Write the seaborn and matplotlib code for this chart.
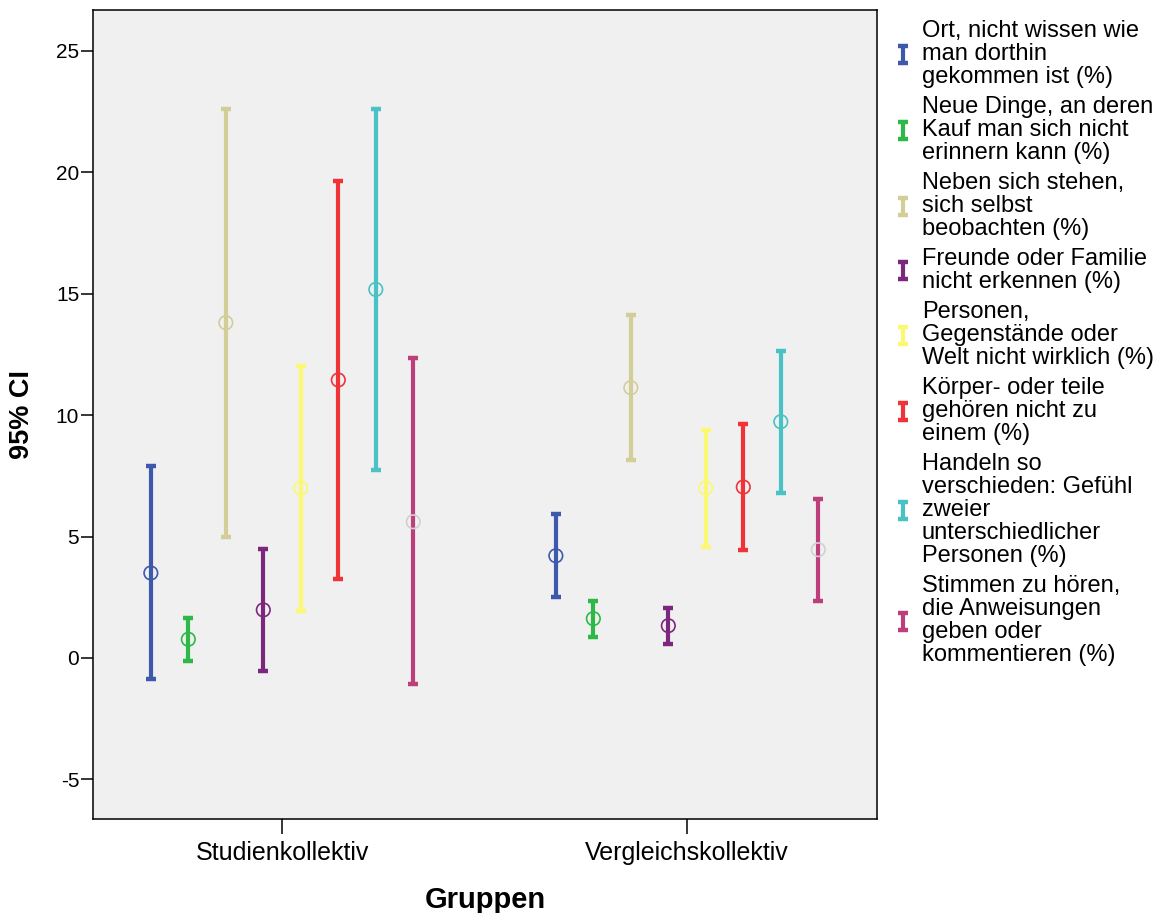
import numpy as np
import pandas as pd
import matplotlib
matplotlib.use("Agg")
import matplotlib.pyplot as plt
import seaborn as sns
from matplotlib.container import ErrorbarContainer
from matplotlib.legend_handler import HandlerErrorbar

# --- data (95% CI per item and group) ---
groups = ["Studienkollektiv", "Vergleichskollektiv"]
items = [
    "Ort, nicht wissen wie\nman dorthin\ngekommen ist (%)",
    "Neue Dinge, an deren\nKauf man sich nicht\nerinnern kann (%)",
    "Neben sich stehen,\nsich selbst\nbeobachten (%)",
    "Freunde oder Familie\nnicht erkennen (%)",
    "Personen,\nGegenstände oder\nWelt nicht wirklich (%)",
    "Körper- oder teile\ngehören nicht zu\neinem (%)",
    "Handeln so\nverschieden: Gefühl\nzweier\nunterschiedlicher\nPersonen (%)",
    "Stimmen zu hören,\ndie Anweisungen\ngeben oder\nkommentieren (%)",
]
mean_studie = [3.50, 0.77, 13.81, 1.98, 6.99, 11.45, 15.18, 5.61]
lo_studie = [-0.86, -0.12, 5.00, -0.52, 1.94, 3.24, 7.74, -1.08]
hi_studie = [7.91, 1.66, 22.61, 4.49, 12.03, 19.65, 22.60, 12.34]
mean_vergl = [4.21, 1.62, 11.13, 1.33, 7.00, 7.04, 9.73, 4.46]
lo_vergl = [2.51, 0.88, 8.17, 0.59, 4.58, 4.46, 6.80, 2.35]
hi_vergl = [5.92, 2.35, 14.11, 2.07, 9.39, 9.62, 12.66, 6.55]

colors = ["#3e58ac", "#2eb848", "#d3ce97", "#7b277d",
          "#fbf873", "#ef3338", "#48c2c5", "#bc3f7b"]
marker_colors = ["#3e58ac", "#2eb848", "#d3ce97", "#7b277d",
                 "#fbf873", "#ef3338", "#48c2c5", "#d0d0d0"]

rows = []
for gi, (m, lo, hi) in enumerate([(mean_studie, lo_studie, hi_studie),
                                   (mean_vergl, lo_vergl, hi_vergl)]):
    for ii in range(len(items)):
        rows.append({"group": groups[gi], "gidx": gi, "item": ii,
                     "mean": m[ii], "lo": lo[ii], "hi": hi[ii]})
df = pd.DataFrame(rows)

offsets = np.linspace(-0.324, 0.324, len(items))
df["x"] = df["gidx"] + offsets[df["item"]]

sns.set_style("white", {"xtick.bottom": True, "ytick.left": True,
                        "text.color": "black", "axes.labelcolor": "black",
                        "xtick.color": "black", "ytick.color": "black"})
plt.rcParams["font.family"] = ["Liberation Sans", "DejaVu Sans"]

fig = plt.figure(figsize=(11.63, 9.13), dpi=100)
ax = fig.add_axes([0.0800, 0.1030, 0.6741, 0.8861])
ax.set_facecolor("#f0f0f0")

handles = []
for ii in range(len(items)):
    sub = df[df["item"] == ii]
    yerr = np.vstack([sub["mean"] - sub["lo"], sub["hi"] - sub["mean"]])
    eb = ax.errorbar(sub["x"], sub["mean"], yerr=yerr, fmt="none",
                     ecolor=colors[ii], elinewidth=3.0, capsize=3.6,
                     capthick=3.2, zorder=2)
    handles.append(eb)

sns.scatterplot(data=df, x="x", y="mean", hue="item",
                palette=marker_colors, s=95, linewidth=1.2,
                legend=False, ax=ax, zorder=3)
pts = ax.collections[-1]
pts.set_edgecolors(pts.get_facecolors())
pts.set_facecolors("none")

ax.set_xlim(-0.4667, 1.469)
ax.set_ylim(-6.63, 26.69)
ax.set_xticks([0, 1])
ax.set_xticklabels(groups, fontsize=18)
ax.set_yticks([-5, 0, 5, 10, 15, 20, 25])
ax.set_yticklabels(["-5", "0", "5", "10", "15", "20", "25"], fontsize=15)
ax.tick_params(axis="x", bottom=True, length=11, width=1.1, pad=5,
               color="black", labelcolor="black")
ax.tick_params(axis="y", left=True, length=9, width=1.1, pad=1,
               color="black", labelcolor="black")
for sp in ax.spines.values():
    sp.set_visible(True)
    sp.set_color("black")
    sp.set_linewidth(1.1)

ax.set_xlabel("Gruppen", fontsize=21, fontweight="bold", color="black")
ax.set_ylabel("95% CI", fontsize=19.5, fontweight="bold", color="black")
ax.xaxis.set_label_coords(0.5, -0.083)
ax.yaxis.set_label_coords(-0.0735, 0.5)

leg = fig.legend(handles, items, loc="upper left",
                 bbox_to_anchor=(897 / 1163, 1 - 20 / 913),
                 frameon=False, fontsize=17, handlelength=0.5,
                 handletextpad=0.55, labelspacing=0.33, borderpad=0,
                 borderaxespad=0,
                 handler_map={ErrorbarContainer: HandlerErrorbar(yerr_size=0.36)})
for t in leg.get_texts():
    t.set_linespacing(1.065)
    t.set_color("black")

fig.savefig("out.png", dpi=100)
